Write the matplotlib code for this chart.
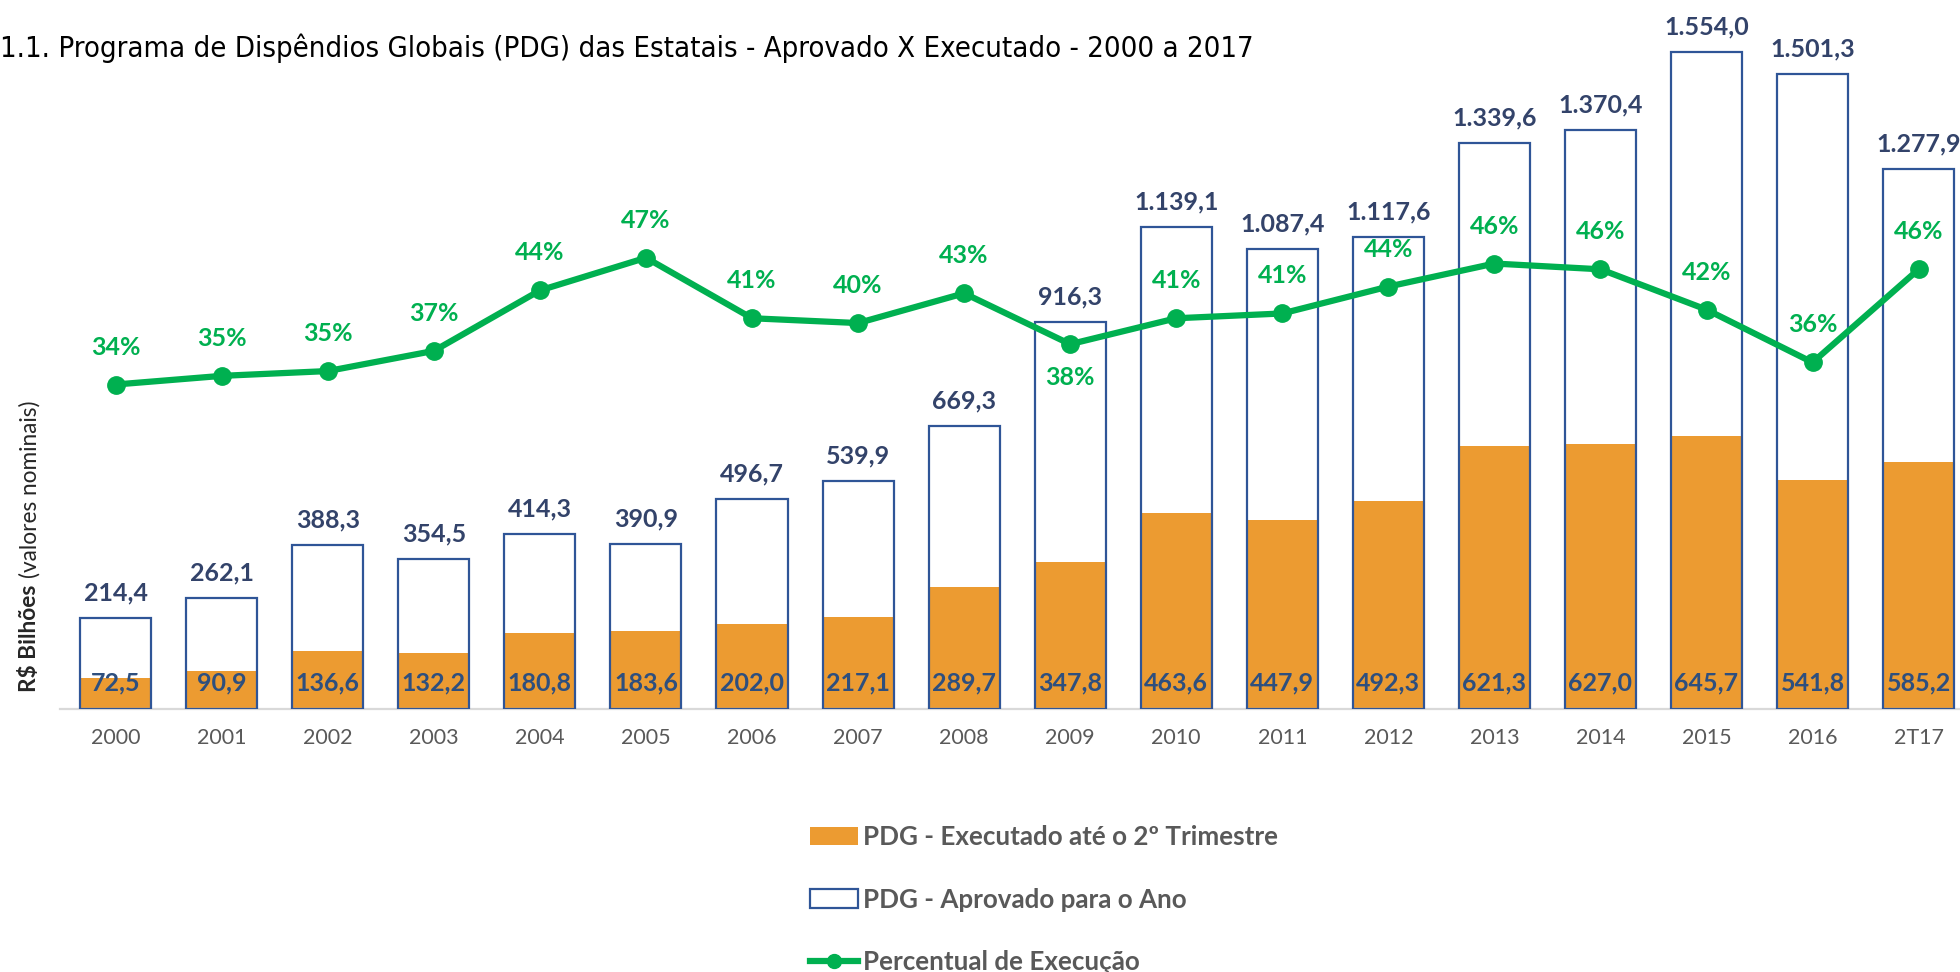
import matplotlib
matplotlib.use("Agg")
import matplotlib.pyplot as plt
from matplotlib.patches import Patch
from matplotlib.lines import Line2D
import numpy as np

# --- data (R$ bilhões, valores nominais) ---
periods = ["2000", "2001", "2002", "2003", "2004", "2005", "2006", "2007", "2008",
           "2009", "2010", "2011", "2012", "2013", "2014", "2015", "2016", "2T17"]
aprovado = [214.4, 262.1, 388.3, 354.5, 414.3, 390.9, 496.7, 539.9, 669.3,
            916.3, 1139.1, 1087.4, 1117.6, 1339.6, 1370.4, 1554.0, 1501.3, 1277.9]
executado = [72.5, 90.9, 136.6, 132.2, 180.8, 183.6, 202.0, 217.1, 289.7,
             347.8, 463.6, 447.9, 492.3, 621.3, 627.0, 645.7, 541.8, 585.2]
percentual = [33.8, 34.7, 35.2, 37.3, 43.6, 47.0, 40.7, 40.2, 43.3,
              38.0, 40.7, 41.2, 44.0, 46.4, 45.8, 41.6, 36.1, 45.8]

title = "1.1. Programa de Dispêndios Globais (PDG) das Estatais - Aprovado X Executado - 2000 a 2017"
leg_labels = ["PDG - Executado até o 2º Trimestre", "PDG - Aprovado para o Ano",
              "Percentual de Execução"]

ORANGE = "#EC9B31"
EDGE = "#2F5597"
GREEN = "#00B050"
NAVY = "#33436A"
BLUE_IN = "#2E4F7E"
GREY = "#595959"

FONT = ["Lato", "DejaVu Sans"]


def br(v):
    """1554.0 -> '1.554,0'"""
    s = f"{v:,.1f}"
    return s.replace(",", "X").replace(".", ",").replace("X", ".")


W, H = 1960, 972
fig = plt.figure(figsize=(W / 100, H / 100), dpi=100)
ax = fig.add_axes([60 / W, 263 / H, 1900 / W, 709 / H])
ax2 = ax.twinx()

x = np.arange(len(periods))
bw = 0.67

ax.bar(x, executado, width=bw, color=ORANGE, linewidth=0, zorder=2)
ax.bar(x, aprovado, width=bw, facecolor="none", edgecolor=EDGE, linewidth=1.6, zorder=3)

for xi, a, e in zip(x, aprovado, executado):
    ax.annotate(br(a), (xi, a), xytext=(0, 18), textcoords="offset points",
                ha="center", va="center", fontsize=18, fontweight="bold",
                color=NAVY, family=FONT)
    ax.annotate(br(e), (xi, 0), xytext=(0, 19), textcoords="offset points",
                ha="center", va="center", fontsize=18, fontweight="bold",
                color=BLUE_IN, family=FONT, zorder=4)

ax.set_xlim(-0.525, 17.39)
ax.set_ylim(0, 1677)
ax.set_xticks(x)
ax.set_xticklabels(periods, fontsize=15.5, color=GREY, family=FONT)
ax.tick_params(axis="x", length=0, pad=14)
ax.set_yticks([])
for s in ["top", "right", "left"]:
    ax.spines[s].set_visible(False)
ax.spines["bottom"].set_color("#D9D9D9")
ax.spines["bottom"].set_linewidth(1.6)

# percent line on secondary axis
ax2.plot(x, percentual, color=GREEN, lw=4.5, marker="o", ms=12.5, zorder=5,
         solid_joinstyle="round")
below = {"2009"}
for xi, p, lab in zip(x, percentual, periods):
    dy = -24 if lab in below else 27
    ax2.annotate(f"{p:.0f}%", (xi, p), xytext=(0, dy), textcoords="offset points",
                 ha="center", va="center", fontsize=18, fontweight="bold",
                 color=GREEN, family=FONT)
ax2.set_ylim(0, 73.85)
ax2.set_yticks([])
for s in ax2.spines.values():
    s.set_visible(False)

# y label: bold part + regular part
t1 = fig.text(30 / W, 1 - 692 / H, "R$ Bilhões", rotation=90, rotation_mode="anchor",
              ha="left", va="center", fontsize=16.3, fontweight="bold",
              color="#262626", family=FONT)
fig.canvas.draw()
bb = t1.get_window_extent()
fig.text(30 / W, (bb.y1 + 7) / H, "(valores nominais)", rotation=90,
         rotation_mode="anchor", ha="left", va="center", fontsize=16.3,
         color="#262626", family=FONT)

# title: sized so it spans the same width as the original
tt = fig.text(0, 1 - 48 / H, title, ha="left", va="center", fontsize=25,
              color="black", family=["DejaVu Sans", "Lato"], fontstretch="condensed")
fig.canvas.draw()
tw = tt.get_window_extent().width
target = 1255
if tw > target:
    tt.set_fontsize(25 * target / tw)

handles = [Patch(facecolor=ORANGE, edgecolor="none"),
           Patch(facecolor="white", edgecolor=EDGE, linewidth=1.6),
           Line2D([], [], color=GREEN, lw=4.5, marker="o", ms=10)]
leg = fig.legend(handles, leg_labels, loc="upper left",
                 bbox_to_anchor=(810 / W, 1 - 825 / H), frameon=False,
                 borderpad=0, borderaxespad=0, handlelength=1.85,
                 handletextpad=0.2, labelspacing=1.48,
                 prop={"family": FONT, "weight": "bold", "size": 18.75})
for t in leg.get_texts():
    t.set_color(GREY)

fig.savefig("out.png", dpi=100)
